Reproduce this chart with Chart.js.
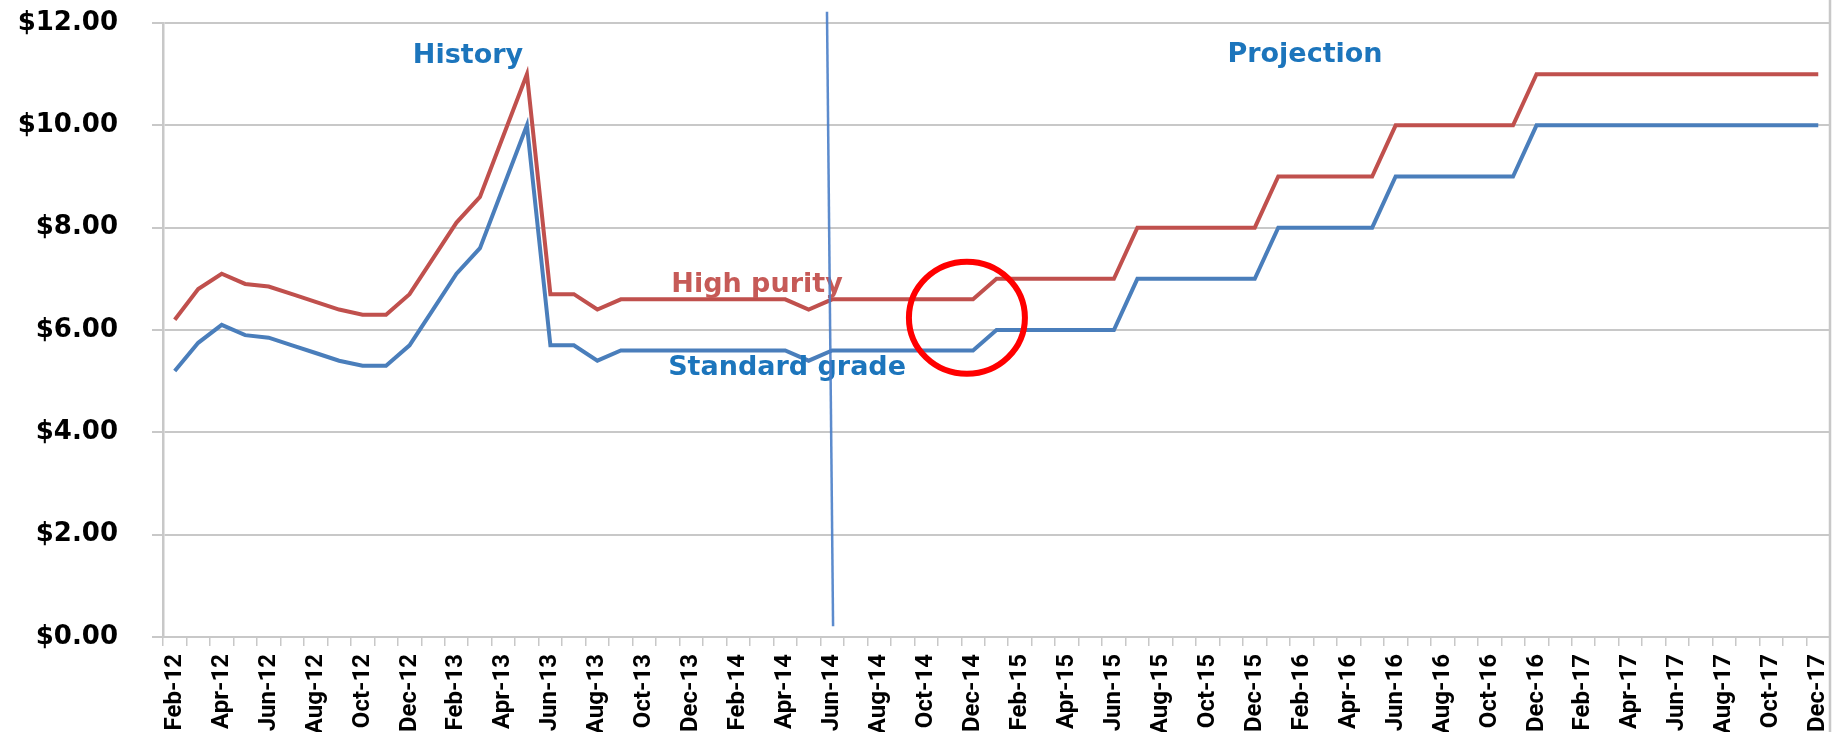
<!DOCTYPE html>
<html lang="en">
<head>
  <meta charset="UTF-8">
  <title>High purity vs Standard grade</title>
  <style>
    body {
      margin: 0;
      padding: 0;
      background-color: #ffffff;
    }
    #grafico {
      display: block;
    }
  </style>
</head>
<body>
  <canvas id="grafico" width="1834" height="732"></canvas>

  <script src="https://cdn.jsdelivr.net/npm/chart.js"></script>
  <script>
    // months Feb-12 .. Dec-17
    const meses = [
      'Feb-12','Mar-12','Apr-12','May-12','Jun-12','Jul-12','Aug-12','Sep-12','Oct-12','Nov-12','Dec-12',
      'Jan-13','Feb-13','Mar-13','Apr-13','May-13','Jun-13','Jul-13','Aug-13','Sep-13','Oct-13','Nov-13','Dec-13',
      'Jan-14','Feb-14','Mar-14','Apr-14','May-14','Jun-14','Jul-14','Aug-14','Sep-14','Oct-14','Nov-14','Dec-14',
      'Jan-15','Feb-15','Mar-15','Apr-15','May-15','Jun-15','Jul-15','Aug-15','Sep-15','Oct-15','Nov-15','Dec-15',
      'Jan-16','Feb-16','Mar-16','Apr-16','May-16','Jun-16','Jul-16','Aug-16','Sep-16','Oct-16','Nov-16','Dec-16',
      'Jan-17','Feb-17','Mar-17','Apr-17','May-17','Jun-17','Jul-17','Aug-17','Sep-17','Oct-17','Nov-17','Dec-17'
    ];

    const highPurity = [
      6.2, 6.8, 7.1, 6.9, 6.85, 6.7, 6.55, 6.4, 6.3, 6.3, 6.7,
      7.4, 8.1, 8.6, 9.8, 11.0, 6.7, 6.7, 6.4, 6.6, 6.6, 6.6, 6.6,
      6.6, 6.6, 6.6, 6.6, 6.4, 6.6, 6.6, 6.6, 6.6, 6.6, 6.6, 6.6,
      7, 7, 7, 7, 7, 7, 8, 8, 8, 8, 8, 8,
      9, 9, 9, 9, 9, 10, 10, 10, 10, 10, 10, 11,
      11, 11, 11, 11, 11, 11, 11, 11, 11, 11, 11, 11
    ];

    const standardGrade = [
      5.2, 5.75, 6.1, 5.9, 5.85, 5.7, 5.55, 5.4, 5.3, 5.3, 5.7,
      6.4, 7.1, 7.6, 8.8, 10.0, 5.7, 5.7, 5.4, 5.6, 5.6, 5.6, 5.6,
      5.6, 5.6, 5.6, 5.6, 5.4, 5.6, 5.6, 5.6, 5.6, 5.6, 5.6, 5.6,
      6, 6, 6, 6, 6, 6, 7, 7, 7, 7, 7, 7,
      8, 8, 8, 8, 8, 9, 9, 9, 9, 9, 9, 10,
      10, 10, 10, 10, 10, 10, 10, 10, 10, 10, 10, 10
    ];

    const yTicks = [0, 2, 4, 6, 8, 10, 12];

    // annotations in data space: [month index, value]
    const textos = [
      { texto: 'History',        pos: [12.49, 11.22], cor: '#1C75BC' },
      { texto: 'Projection',     pos: [48.14, 11.24], cor: '#1C75BC' },
      { texto: 'High purity',    pos: [24.8, 6.75],   cor: '#C65A57' },
      { texto: 'Standard grade', pos: [26.08, 5.12],  cor: '#1C75BC' }
    ];
    const divisoria = { de: [27.78, 12.22], ate: [28.04, 0.21] };
    const circulo = { centro: [33.74, 6.24] };

    const anotacoes = {
      id: 'anotacoes',
      afterDatasetsDraw(chart) {
        const ctx = chart.ctx;
        const x = chart.scales.x;
        const y = chart.scales.y;

        ctx.save();
        ctx.font = "bold 27px 'DejaVu Sans'";
        ctx.textAlign = 'center';
        ctx.textBaseline = 'alphabetic';
        textos.forEach(t => {
          ctx.fillStyle = t.cor;
          ctx.fillText(t.texto, x.getPixelForValue(t.pos[0]), y.getPixelForValue(t.pos[1]));
        });

        // history / projection divider
        ctx.strokeStyle = 'rgba(74,126,200,0.9)';
        ctx.lineWidth = 2.5;
        ctx.beginPath();
        ctx.moveTo(x.getPixelForValue(divisoria.de[0]), y.getPixelForValue(divisoria.de[1]));
        ctx.lineTo(x.getPixelForValue(divisoria.ate[0]), y.getPixelForValue(divisoria.ate[1]));
        ctx.stroke();

        // red circle
        ctx.strokeStyle = '#FF0000';
        ctx.lineWidth = 6;
        ctx.beginPath();
        ctx.ellipse(x.getPixelForValue(circulo.centro[0]), y.getPixelForValue(circulo.centro[1]), 58, 56, 0, 0, Math.PI * 2);
        ctx.stroke();

        // right frame line
        ctx.strokeStyle = '#C8C8C8';
        ctx.lineWidth = 2.5;
        ctx.beginPath();
        ctx.moveTo(chart.chartArea.right, 0);
        ctx.lineTo(chart.chartArea.right, chart.height);
        ctx.stroke();
        ctx.restore();
      }
    };

    const semPadding = s => {
      s.paddingTop = 0;
      s.paddingBottom = 0;
      s.paddingLeft = 0;
      s.paddingRight = 0;
    };

    const ctx = document.getElementById('grafico').getContext('2d');
    const grafico = new Chart(ctx, {
      type: 'line',
      data: {
        labels: meses,
        datasets: [
          {
            label: 'Standard grade',
            data: standardGrade,
            borderColor: '#4A7EBB',
            borderWidth: 4,
            pointRadius: 0,
            tension: 0,
            fill: false
          },
          {
            label: 'High purity',
            data: highPurity,
            borderColor: '#C0504D',
            borderWidth: 4,
            pointRadius: 0,
            tension: 0,
            fill: false
          }
        ]
      },
      options: {
        responsive: false,
        animation: false,
        layout: {
          padding: { top: 23, right: 4, left: 0, bottom: 0 }
        },
        plugins: {
          legend: { display: false },
          tooltip: { enabled: false }
        },
        scales: {
          x: {
            offset: true,
            grid: {
              offset: true,
              drawOnChartArea: false,
              tickLength: 9,
              color: '#C8C8C8',
              lineWidth: 1.5
            },
            border: { color: '#C8C8C8', width: 2 },
            ticks: {
              autoSkip: false,
              minRotation: 90,
              maxRotation: 90,
              padding: 8,
              color: '#000000',
              font: { family: 'Roboto', weight: 'bold', size: 24 },
              callback: (v, i) => i % 2 === 0 ? meses[i] : ''
            },
            afterFit: s => { s.height = 95; semPadding(s); }
          },
          y: {
            min: 0,
            max: 12,
            afterBuildTicks: s => { s.ticks = yTicks.map(v => ({ value: v })); },
            grid: {
              color: '#C8C8C8',
              lineWidth: 2,
              tickLength: 11
            },
            border: { color: '#C8C8C8', width: 2.5 },
            ticks: {
              padding: 34,
              color: '#000000',
              font: { family: 'DejaVu Sans', weight: 'bold', size: 26 },
              callback: v => '$' + Number(v).toFixed(2)
            },
            afterFit: s => { s.width = 163; semPadding(s); }
          }
        }
      },
      plugins: [anotacoes]
    });
  </script>
</body>
</html>
